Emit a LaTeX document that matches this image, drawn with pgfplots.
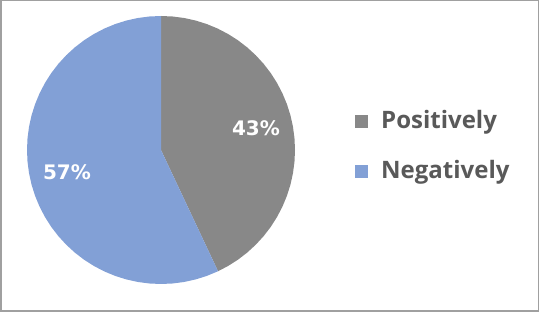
\documentclass[border=0pt]{standalone}
\usepackage{pgfplots}
\usepackage{pgfplotstable}
\pgfplotsset{compat=1.18}
\usepackage{fontspec}
\setmainfont{Open Sans}
\newfontfamily\pctfont{DejaVu Sans}
\definecolor{pgray}{RGB}{136,136,136}
\definecolor{pblue}{RGB}{130,160,214}
\definecolor{ltext}{RGB}{89,89,89}
\definecolor{frame}{RGB}{160,160,160}
% Share: Positively 43%, Negatively 57% -> slices from 90 deg clockwise
\pgfplotstableread[row sep=\\]{
a r\\
0 0\\ 90 1\\ 85 1\\ 80 1\\ 75 1\\ 70 1\\ 65 1\\ 60 1\\ 55 1\\ 50 1\\ 45 1\\ 40 1\\ 35 1\\ 30 1\\ 25 1\\ 20 1\\ 15 1\\ 10 1\\ 5 1\\ 0 1\\ -5 1\\ -10 1\\ -15 1\\ -20 1\\ -25 1\\ -30 1\\ -35 1\\ -40 1\\ -45 1\\ -50 1\\ -55 1\\ -60 1\\ -64.8 1\\
}\positively
\pgfplotstableread[row sep=\\]{
a r\\
0 0\\ -64.8 1\\ -70 1\\ -75 1\\ -80 1\\ -85 1\\ -90 1\\ -95 1\\ -100 1\\ -105 1\\ -110 1\\ -115 1\\ -120 1\\ -125 1\\ -130 1\\ -135 1\\ -140 1\\ -145 1\\ -150 1\\ -155 1\\ -160 1\\ -165 1\\ -170 1\\ -175 1\\ -180 1\\ -185 1\\ -190 1\\ -195 1\\ -200 1\\ -205 1\\ -210 1\\ -215 1\\ -220 1\\ -225 1\\ -230 1\\ -235 1\\ -240 1\\ -245 1\\ -250 1\\ -255 1\\ -260 1\\ -265 1\\ -270 1\\
}\negatively
\begin{document}
\begin{tikzpicture}
\begin{axis}[
  scale only axis, width=539pt, height=312pt,
  xmin=0, xmax=539, ymin=0, ymax=312,
  hide axis, clip=false,
  legend style={draw=none, fill=none, at={(axis cs:355,202)}, anchor=north west,
    font=\fontsize{24}{28}\selectfont\bfseries\color{ltext},
    nodes={inner sep=0pt, text height=18pt, text depth=5pt},
    row sep=27pt, inner sep=0pt,
    /tikz/every odd column/.append style={column sep=13pt}},
  legend cell align=left,
  legend image code/.code={\fill[#1] (0pt,-6.5pt) rectangle (13pt,6.5pt);},
]
\draw[frame, line width=1.5pt] (axis cs:0.75,0.75) rectangle (axis cs:538.25,311.25);
\addplot[draw=none, fill=pgray] table[x expr={161+134*\thisrow{r}*cos(\thisrow{a})}, y expr={162+134*\thisrow{r}*sin(\thisrow{a})}] {\positively} -- cycle;
\addlegendentry{Positively}
\addplot[draw=none, fill=pblue] table[x expr={161+134*\thisrow{r}*cos(\thisrow{a})}, y expr={162+134*\thisrow{r}*sin(\thisrow{a})}] {\negatively} -- cycle;
\addlegendentry{Negatively}
\node[white, font=\pctfont\bfseries\fontsize{20}{24}\selectfont] at (axis cs:256,184) {43\%};
\node[white, font=\pctfont\bfseries\fontsize{20}{24}\selectfont] at (axis cs:67,140) {57\%};
\end{axis}
\end{tikzpicture}
\end{document}
